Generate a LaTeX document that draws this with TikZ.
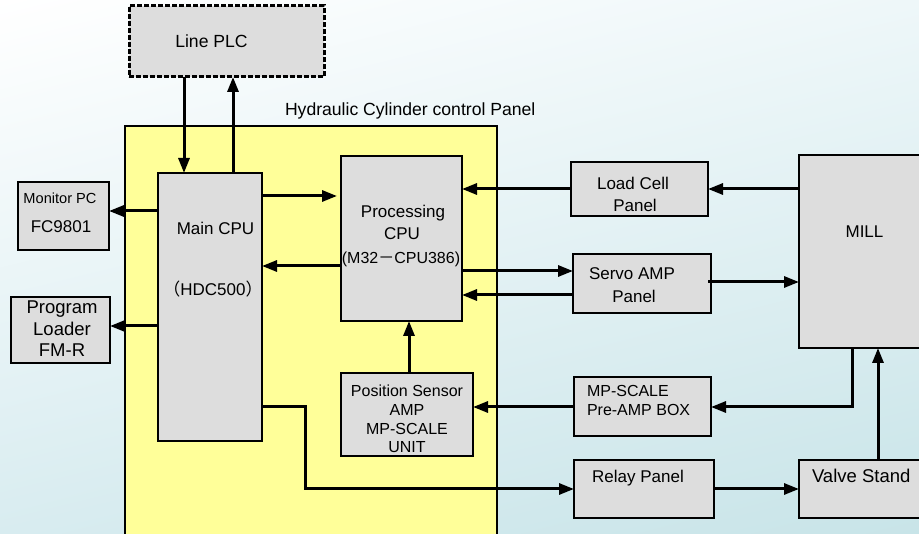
\documentclass[tikz,border=0pt]{standalone}
\usepackage{fontspec}
\setmainfont{Liberation Sans}
\newfontfamily\jpfont{Noto Sans CJK JP}
\usetikzlibrary{arrows.meta,shadings}
\definecolor{boxgray}{HTML}{DDDDDD}
\definecolor{panelyellow}{HTML}{FFFF99}
\definecolor{bgtl}{HTML}{FFFFFF}
\definecolor{bgtr}{HTML}{EEF7F9}
\definecolor{bgbl}{HTML}{D8ECF0}
\definecolor{bgbr}{HTML}{C8E4E8}
\tikzset{
  box/.style={draw=black, line width=2pt, fill=boxgray, rectangle, inner sep=0pt, outer sep=0pt, anchor=north west},
  txt/.style={inner sep=0pt, outer sep=0pt, font=\fontsize{17}{19}\selectfont},
  conn/.style={line width=3pt, -{Triangle[length=15pt,width=11pt]}},
}
\begin{document}
\begin{tikzpicture}[x=1pt,y=-1pt]
\useasboundingbox (0,0) rectangle (919,534);
\shade[upper left=bgtl, upper right=bgtr, lower left=bgbl, lower right=bgbr] (0,0) rectangle (919,534);
% panel
\node[draw=black, line width=1.6pt, fill=panelyellow, rectangle, inner sep=0pt, anchor=north west, minimum width=372pt, minimum height=412pt] (panel) at (124,125) {};
\node[txt, anchor=base west, font=\fontsize{17.6}{19}\selectfont] (ptitle) at (285,116) {Hydraulic Cylinder control Panel};
% boxes
\node[box, draw=black, dash pattern=on 5pt off 2pt, line width=3pt, minimum width=195pt, minimum height=71pt] (plc) at (129,6) {};
\node[box, minimum width=104pt, minimum height=268pt] (main) at (158,173) {};
\node[box, minimum width=121pt, minimum height=165pt] (proc) at (341,156) {};
\node[box, minimum width=91pt, minimum height=68pt] (mon) at (18,182) {};
\node[box, minimum width=99pt, minimum height=66pt] (prog) at (11,297) {};
\node[box, minimum width=132pt, minimum height=83pt] (pos) at (341,373) {};
\node[box, minimum width=137pt, minimum height=54pt] (load) at (571,162) {};
\node[box, minimum width=138pt, minimum height=59pt] (servo) at (573,254) {};
\node[box, minimum width=130pt, minimum height=193pt] (mill) at (799,155) {};
\node[box, minimum width=137pt, minimum height=59pt] (pre) at (574,377) {};
\node[box, minimum width=140pt, minimum height=58pt] (relay) at (574,460) {};
\node[box, minimum width=130pt, minimum height=58pt] (valve) at (799,460) {};
% texts
\node[txt, anchor=base, font=\fontsize{17.6}{19}\selectfont] (tplc) at (211.5,48) {Line PLC};
\node[txt, anchor=base, font=\fontsize{14.6}{16}\selectfont] (tmon1) at (60,204) {Monitor PC};
\node[txt, anchor=base] (tmon2) at (61,233) {FC9801};
\node[txt, anchor=base] (tmain1) at (215.5,235) {Main CPU};
\node[txt, anchor=base] (tmain2) at (213,296) {{\jpfont （}HDC500{\jpfont ）}};
\node[txt, anchor=base] (tproc1) at (403,218) {Processing};
\node[txt, anchor=base] (tproc2) at (402,240) {CPU};
\node[txt, anchor=base, font=\fontsize{16}{18}\selectfont] (tproc3) at (401,264) {(M32{\jpfont －}CPU386)};
\node[txt, anchor=base, font=\fontsize{18.5}{21}\selectfont] (tprog1) at (62,314) {Program};
\node[txt, anchor=base, font=\fontsize{18.5}{21}\selectfont] (tprog2) at (62,335.5) {Loader};
\node[txt, anchor=base, font=\fontsize{18.5}{21}\selectfont] (tprog3) at (62,357) {FM-R};
\node[txt, anchor=base, font=\fontsize{16}{18}\selectfont] (tpos1) at (407,397) {Position Sensor};
\node[txt, anchor=base, font=\fontsize{16}{18}\selectfont] (tpos2) at (407,416) {AMP};
\node[txt, anchor=base, font=\fontsize{16}{18}\selectfont] (tpos3) at (407,435) {MP-SCALE};
\node[txt, anchor=base, font=\fontsize{16}{18}\selectfont] (tpos4) at (407,453) {UNIT};
\node[txt, anchor=base] (tload1) at (633,190) {Load Cell};
\node[txt, anchor=base] (tload2) at (635,212) {Panel};
\node[txt, anchor=base] (tmill) at (864.5,238) {MILL};
\node[txt, anchor=base] (tservo1) at (632,280) {Servo AMP};
\node[txt, anchor=base] (tservo2) at (634,303) {Panel};
\node[txt, anchor=base west, font=\fontsize{16}{18}\selectfont] (tpre1) at (587,397) {MP-SCALE};
\node[txt, anchor=base west, font=\fontsize{16}{18}\selectfont] (tpre2) at (587,416) {Pre-AMP BOX};
\node[txt, anchor=base] (trelay) at (638,483) {Relay Panel};
\node[txt, anchor=base west, font=\fontsize{18.5}{21}\selectfont] (tvalve) at (812,483) {Valve Stand};
% connectors
\draw[conn] (plc.south -| 184,0) -- (main.north -| 184,0);
\draw[conn] (main.north -| 233,0) -- (plc.south -| 233,0);
\draw[conn] (main.west |- 0,211) -- (mon.east |- 0,211);
\draw[conn] (main.west |- 0,326) -- (prog.east |- 0,326);
\draw[conn] (main.east |- 0,196) -- ([xshift=-4pt]proc.west |- 0,196);
\draw[conn] (proc.west |- 0,266) -- (main.east |- 0,266);
\draw[conn] (load.west |- 0,189) -- (proc.east |- 0,189);
\draw[conn] (mill.west |- 0,189) -- (load.east |- 0,189);
\draw[conn] (proc.east |- 0,271) -- (servo.west |- 0,271);
\draw[conn] (servo.west |- 0,295) -- (proc.east |- 0,295);
\draw[conn] ([xshift=-3pt]servo.east |- 0,282) -- (mill.west |- 0,282);
\draw[conn] (mill.south -| 852,0) |- (pre.east |- 0,407);
\draw[conn] (pre.west |- 0,407) -- (pos.east |- 0,407);
\draw[conn] (pos.north -| 409,0) -- (proc.south -| 409,0);
\draw[conn] (main.east |- 0,407) -- (305,407) |- (relay.west |- 0,489);
\draw[conn] (relay.east |- 0,489) -- (valve.west |- 0,489);
\draw[conn] (valve.north -| 878,0) -- (mill.south -| 878,0);
\end{tikzpicture}
\end{document}
